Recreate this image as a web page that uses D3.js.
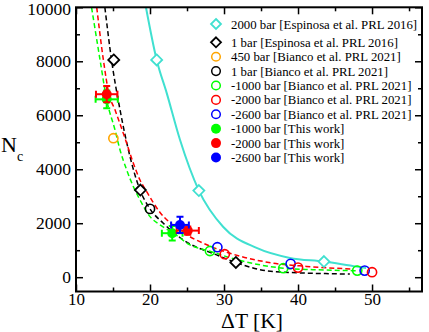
<!DOCTYPE html>
<html>
<head>
<meta charset="utf-8">
<script src="https://cdn.jsdelivr.net/npm/d3@7"></script>
<style>
  body { margin: 0; background: #fff; }
  svg { display: block; font-family: "Liberation Serif", "Times New Roman", serif; }
</style>
</head>
<body>
<div id="chart"></div>
<script>
const width = 429, height = 332;

// tick values
const xMajor = [10, 20, 30, 40, 50];
const xMinor = [15, 25, 35, 45, 55];
const yMajor = [0, 2000, 4000, 6000, 8000, 10000];
const yMinor = [1000, 3000, 5000, 7000, 9000];

// literature points
const espinosa2000T = [20.9, 26.6, 43.5];
const espinosa2000N = [8050, 3210, 580];
const espinosa1T = [15.1, 18.7, 31.6];
const espinosa1N = [8050, 3230, 545];
const bianco450T = [15.05];
const bianco450N = [5150];
const bianco1T = [20.0];
const bianco1N = [2530];
const biancoM1000T = [28.1, 38.0, 48.0];
const biancoM1000N = [970, 333, 244];
const biancoM2000T = [30.1, 40.0, 50.0];
const biancoM2000N = [852, 356, 185];
const biancoM2600T = [29.1, 39.0, 49.0];
const biancoM2600N = [1111, 493, 244];

// this work (with error bars)
const workM1000T = [14.15, 23.0];
const workM1000N = [6590, 1630];
const workM1000dT = [1.5, 1.4];
const workM1000dN = [330, 270];
const workM2000T = [14.15, 25.1];
const workM2000N = [6780, 1726];
const workM2000dT = [1.45, 1.5];
const workM2000dN = [300, 150];
const workM2600T = [24.05];
const workM2600N = [1937];
const workM2600dT = [1.2];
const workM2600dN = [300];

// fit curves
const cyanFitT = [19.45, 20.9, 22.25, 24.05, 26.6, 29.9, 34.4, 38.9, 43.5, 47.9, 49.2];
const cyanFitN = [10000, 8050, 6830, 5090, 3210, 1860, 1085, 715, 578, 393, 344];
const blackFitT = [13.9, 14.8, 15.95, 18.65, 20.0, 21.8, 24.5, 29.0, 31.6, 36.6, 45.6, 47.0];
const blackFitN = [10000, 8050, 6200, 3230, 2530, 2000, 1380, 826, 541, 210, 122, 115];
const redFitT = [12.8, 13.7, 14.45, 15.27, 16.85, 17.75, 18.65, 19.55, 21.35, 24.0, 28.1, 32.15, 36.65, 41.15, 47.45];
const redFitN = [10000, 8050, 6790, 6200, 4960, 4220, 3600, 3170, 2400, 1750, 1150, 780, 520, 400, 300];
const greenFitT = [12.1, 13.25, 14.15, 15.27, 15.95, 16.85, 17.75, 18.65, 20.0, 21.35, 23.05, 25.4, 28.1, 31.6, 35.0, 38.0, 42.0, 47.9];
const greenFitN = [10000, 8050, 6570, 5456, 4715, 3974, 3356, 2863, 2244, 1937, 1652, 1196, 960, 660, 450, 333, 280, 240];

const legendLabels = [
  "2000 bar [Espinosa et al. PRL 2016]",
  "1 bar [Espinosa et al. PRL 2016]",
  "450 bar [Bianco et al. PRL 2021]",
  "1 bar [Bianco et al. PRL 2021]",
  "-1000 bar [Bianco et al. PRL 2021]",
  "-2000 bar [Bianco et al. PRL 2021]",
  "-2600 bar [Bianco et al. PRL 2021]",
  "-1000 bar [This work]",
  "-2000 bar [This work]",
  "-2600 bar [This work]"
];

const cyan = "#40e0d0", green = "#00ff00", red = "#ff0000", blue = "#0000ff", orange = "#ffa500";

const zip = (a, b) => a.map((v, i) => [v, b[i]]);

const svg = d3.select("#chart").append("svg")
  .attr("width", width)
  .attr("height", height);

const x = d3.scaleLinear().domain([10, 56.75]).range([76, 422]);
const y = d3.scaleLinear().domain([-530, 10000]).range([291.5, 7.3]);

svg.append("clipPath").attr("id", "plot-clip")
  .append("rect")
  .attr("x", x.range()[0]).attr("y", y.range()[1])
  .attr("width", x.range()[1] - x.range()[0])
  .attr("height", y.range()[0] - y.range()[1]);

//
// Fit curves
//
const line = d3.line()
  .x(d => x(d[0]))
  .y(d => y(d[1]))
  .curve(d3.curveMonotoneX);

const curves = svg.append("g").attr("clip-path", "url(#plot-clip)");
curves.append("path").attr("d", line(zip(cyanFitT, cyanFitN)))
  .attr("fill", "none").attr("stroke", cyan).attr("stroke-width", 2);
curves.append("path").attr("d", line(zip(blackFitT, blackFitN)))
  .attr("fill", "none").attr("stroke", "#000").attr("stroke-width", 1.5)
  .attr("stroke-dasharray", "5,3");
curves.append("path").attr("d", line(zip(redFitT, redFitN)))
  .attr("fill", "none").attr("stroke", red).attr("stroke-width", 1.5)
  .attr("stroke-dasharray", "5,3");
curves.append("path").attr("d", line(zip(greenFitT, greenFitN)))
  .attr("fill", "none").attr("stroke", green).attr("stroke-width", 1.5)
  .attr("stroke-dasharray", "5,3");

//
// Markers
//
const diamond = s => `M0,${-s} L${s},0 L0,${s} L${-s},0 Z`;

function drawDiamonds(g, T, N, color) {
  g.selectAll(null).data(zip(T, N)).enter().append("path")
    .attr("transform", d => `translate(${x(d[0])},${y(d[1])})`)
    .attr("d", diamond(5.5))
    .attr("fill", "#fff").attr("stroke", color).attr("stroke-width", 1.8);
}
function drawOpen(g, T, N, color) {
  g.selectAll(null).data(zip(T, N)).enter().append("circle")
    .attr("cx", d => x(d[0])).attr("cy", d => y(d[1])).attr("r", 4.6)
    .attr("fill", "none").attr("stroke", color).attr("stroke-width", 1.6);
}
function drawErr(g, T, N, dT, dN, color) {
  const data = T.map((t, i) => ({t, n: N[i], dt: dT[i], dn: dN[i]}));
  const eg = g.selectAll(null).data(data).enter().append("g")
    .attr("stroke", color).attr("stroke-width", 2);
  eg.append("line")
    .attr("x1", d => x(d.t - d.dt)).attr("x2", d => x(d.t + d.dt))
    .attr("y1", d => y(d.n)).attr("y2", d => y(d.n));
  eg.append("line")
    .attr("x1", d => x(d.t)).attr("x2", d => x(d.t))
    .attr("y1", d => y(d.n - d.dn)).attr("y2", d => y(d.n + d.dn));
  eg.append("path")
    .attr("d", d => {
      const l = x(d.t - d.dt), r = x(d.t + d.dt), cx = x(d.t), cy = y(d.n);
      const b = y(d.n - d.dn), t = y(d.n + d.dn);
      return `M${l},${cy - 3.5}V${cy + 3.5}M${r},${cy - 3.5}V${cy + 3.5}` +
             `M${cx - 3.5},${b}H${cx + 3.5}M${cx - 3.5},${t}H${cx + 3.5}`;
    })
    .attr("fill", "none");
  eg.append("circle")
    .attr("cx", d => x(d.t)).attr("cy", d => y(d.n)).attr("r", 5)
    .attr("fill", color).attr("stroke", "none");
}

const marks = svg.append("g");
drawDiamonds(marks, espinosa2000T, espinosa2000N, cyan);
drawDiamonds(marks, espinosa1T, espinosa1N, "#000");
drawOpen(marks, bianco450T, bianco450N, orange);
drawOpen(marks, bianco1T, bianco1N, "#000");
drawOpen(marks, biancoM1000T, biancoM1000N, green);
drawOpen(marks, biancoM2600T, biancoM2600N, blue);
drawOpen(marks, biancoM2000T, biancoM2000N, red);
drawErr(marks, workM1000T, workM1000N, workM1000dT, workM1000dN, green);
drawErr(marks, workM2000T, workM2000N, workM2000dT, workM2000dN, red);
drawErr(marks, workM2600T, workM2600N, workM2600dT, workM2600dN, blue);

//
// Axes
//
const [x0, x1] = x.range();
const [y0, y1] = y.range();

function tidy(g) {
  g.select(".domain").remove();
  g.selectAll("line").attr("stroke", "#000").attr("stroke-width", 1.5);
}

svg.append("g").attr("transform", `translate(0,${y0})`)
  .call(d3.axisBottom(x).tickValues(xMajor).tickSize(-7).tickPadding(1))
  .call(tidy)
  .call(g => g.selectAll("text").attr("font-size", 17).attr("font-family", "Liberation Serif").attr("fill", "#000"));
svg.append("g").attr("transform", `translate(0,${y0})`)
  .call(d3.axisBottom(x).tickValues(xMinor).tickSize(-4).tickFormat(""))
  .call(tidy);
svg.append("g").attr("transform", `translate(0,${y1})`)
  .call(d3.axisTop(x).tickValues(xMajor).tickSize(-7).tickFormat(""))
  .call(tidy);
svg.append("g").attr("transform", `translate(0,${y1})`)
  .call(d3.axisTop(x).tickValues(xMinor).tickSize(-4).tickFormat(""))
  .call(tidy);

svg.append("g").attr("transform", `translate(${x0},0)`)
  .call(d3.axisLeft(y).tickValues(yMajor).tickSize(-7).tickPadding(5).tickFormat(d3.format("d")))
  .call(tidy)
  .call(g => g.selectAll("text").attr("font-size", 17.5).attr("font-family", "Liberation Serif").attr("fill", "#000"))
  .call(g => g.selectAll(".tick").filter(d => d === 10000).select("text").attr("dy", "0.42em"));
svg.append("g").attr("transform", `translate(${x0},0)`)
  .call(d3.axisLeft(y).tickValues(yMinor).tickSize(-4).tickFormat(""))
  .call(tidy);
svg.append("g").attr("transform", `translate(${x1},0)`)
  .call(d3.axisRight(y).tickValues(yMajor).tickSize(-7).tickFormat(""))
  .call(tidy);
svg.append("g").attr("transform", `translate(${x1},0)`)
  .call(d3.axisRight(y).tickValues(yMinor).tickSize(-4).tickFormat(""))
  .call(tidy);

svg.append("rect")
  .attr("x", x0).attr("y", y1)
  .attr("width", x1 - x0).attr("height", y0 - y1)
  .attr("fill", "none").attr("stroke", "#000").attr("stroke-width", 2);

// axis titles
svg.append("text")
  .attr("x", (x0 + x1) / 2 + 3).attr("y", 327.5)
  .attr("text-anchor", "middle").attr("font-size", 21.5)
  .text("ΔT [K]");

const ylab = svg.append("text").attr("x", 1).attr("y", 152).attr("font-size", 22);
ylab.append("tspan").text("N");
ylab.append("tspan").attr("font-size", 14).attr("dy", 9).text("c");

//
// Legend
//
const legendX = 216, legendTextX = 231;
const rowY = i => i === 0 ? 24 : 42.3 + (i - 1) * 14.4;
const legendStyles = [
  {type: "diamond", color: cyan},
  {type: "diamond", color: "#000"},
  {type: "open", color: orange},
  {type: "open", color: "#000"},
  {type: "open", color: green},
  {type: "open", color: red},
  {type: "open", color: blue},
  {type: "filled", color: green},
  {type: "filled", color: red},
  {type: "filled", color: blue}
];

const legend = svg.append("g");
legendLabels.forEach((label, i) => {
  const st = legendStyles[i];
  const cy = rowY(i);
  if (st.type === "diamond") {
    legend.append("path").attr("transform", `translate(${legendX},${cy})`)
      .attr("d", diamond(5)).attr("fill", "none")
      .attr("stroke", st.color).attr("stroke-width", 1.8);
  } else if (st.type === "open") {
    legend.append("circle").attr("cx", legendX).attr("cy", cy).attr("r", 4.3)
      .attr("fill", "none").attr("stroke", st.color).attr("stroke-width", 1.5);
  } else {
    legend.append("circle").attr("cx", legendX).attr("cy", cy).attr("r", 5)
      .attr("fill", st.color);
  }
  legend.append("text").attr("x", legendTextX).attr("y", cy + 4.5)
    .attr("font-size", 12.8).text(label);
});
</script>
</body>
</html>
